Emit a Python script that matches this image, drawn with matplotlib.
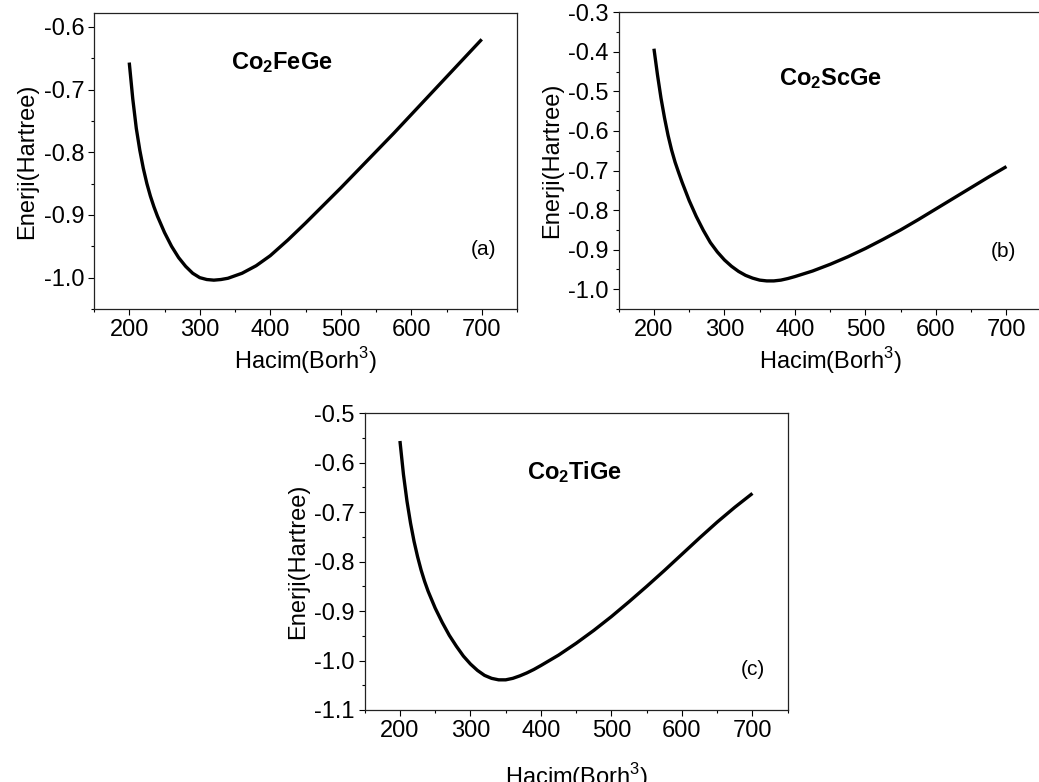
import matplotlib
matplotlib.use("Agg")
import matplotlib.pyplot as plt
from matplotlib.ticker import MultipleLocator, FormatStrFormatter

plt.rcParams['font.family'] = ['Liberation Sans', 'DejaVu Sans']
plt.rcParams['mathtext.fontset'] = 'custom'
plt.rcParams['mathtext.rm'] = 'Liberation Sans'
plt.rcParams['mathtext.bf'] = 'Liberation Sans:bold'
plt.rcParams['axes.unicode_minus'] = False

# volume grid (Borh^3)
volume = [200, 205, 210, 215, 220, 225, 230, 235, 240, 250, 260, 270, 280,
          290, 300, 310, 320, 330, 340, 350, 360, 370, 380, 390, 400,
          425, 450, 475, 500, 525, 550, 575, 600, 625, 650, 675, 700]

# Co2FeGe energies (Hartree)
energy_fe = [-0.657, -0.715, -0.762, -0.797, -0.826, -0.850, -0.870, -0.887,
             -0.902, -0.928, -0.950, -0.968, -0.982, -0.993, -1.000, -1.003,
             -1.004, -1.003, -1.001, -0.997, -0.993, -0.987, -0.981, -0.973,
             -0.965, -0.940, -0.913, -0.885, -0.857, -0.828, -0.799, -0.770,
             -0.740, -0.710, -0.680, -0.650, -0.620]
# Co2ScGe
energy_sc = [-0.392, -0.458, -0.517, -0.567, -0.611, -0.648, -0.679, -0.705,
             -0.730, -0.776, -0.816, -0.851, -0.882, -0.906, -0.926, -0.942,
             -0.955, -0.965, -0.972, -0.977, -0.979, -0.979, -0.977, -0.973,
             -0.968, -0.954, -0.937, -0.918, -0.897, -0.874, -0.850, -0.824,
             -0.797, -0.770, -0.743, -0.716, -0.690]
# Co2TiGe
energy_ti = [-0.556, -0.624, -0.678, -0.722, -0.759, -0.790, -0.817, -0.840,
             -0.860, -0.894, -0.923, -0.949, -0.971, -0.991, -1.007, -1.020,
             -1.030, -1.036, -1.039, -1.039, -1.036, -1.031, -1.025, -1.018,
             -1.010, -0.989, -0.965, -0.939, -0.911, -0.881, -0.850, -0.818,
             -0.785, -0.752, -0.720, -0.690, -0.662]

names = [r'$\mathbf{Co_2FeGe}$', r'$\mathbf{Co_2ScGe}$', r'$\mathbf{Co_2TiGe}$']
panel_tags = ['(a)', '(b)', '(c)']
ylims = [(-1.05, -0.578), (-1.05, -0.3), (-1.1, -0.5)]

W, H = 1039, 782
fig = plt.figure(figsize=(W / 100, H / 100), dpi=100)

# axes boxes in pixels: left, top, right, bottom
boxes = [(94, 13, 517, 309), (618.7, 12.3, 1041.7, 309), (364.7, 413.3, 787.7, 710)]
name_pos = [(0.444, 0.834), (0.50, 0.778), (0.497, 0.803)]
tag_pos = [(0.92, 0.20), (0.909, 0.193), (0.918, 0.135)]
xlabelpads = [3, 3, 14]

for i, energy in enumerate([energy_fe, energy_sc, energy_ti]):
    l, t, r, b = boxes[i]
    ax = fig.add_axes([l / W, 1 - b / H, (r - l) / W, (b - t) / H])
    ax.plot(volume, energy, color='black', lw=2.4, solid_capstyle='butt',
            solid_joinstyle='round')
    ax.set_xlim(150, 750)
    ax.set_ylim(*ylims[i])
    ax.xaxis.set_major_locator(MultipleLocator(100))
    ax.xaxis.set_minor_locator(MultipleLocator(50))
    ax.yaxis.set_major_locator(MultipleLocator(0.1))
    ax.yaxis.set_minor_locator(MultipleLocator(0.05))
    ax.yaxis.set_major_formatter(FormatStrFormatter('%.1f'))
    ax.tick_params(which='major', direction='out', length=4, width=0.8, labelsize=17, pad=3)
    ax.tick_params(which='minor', direction='out', length=2, width=0.8)
    for s in ax.spines.values():
        s.set_linewidth(0.9)
        s.set_color('#222222')
    ax.set_xlabel(r'Hacim(Borh$^3$)', fontsize=17, labelpad=xlabelpads[i])
    ax.set_ylabel('Enerji(Hartree)', fontsize=17, labelpad=4)
    ax.text(name_pos[i][0], name_pos[i][1], names[i], transform=ax.transAxes,
            ha='center', va='center', fontsize=17)
    ax.text(tag_pos[i][0], tag_pos[i][1], panel_tags[i], transform=ax.transAxes,
            ha='center', va='center', fontsize=15)

fig.savefig('out.png', dpi=100)
